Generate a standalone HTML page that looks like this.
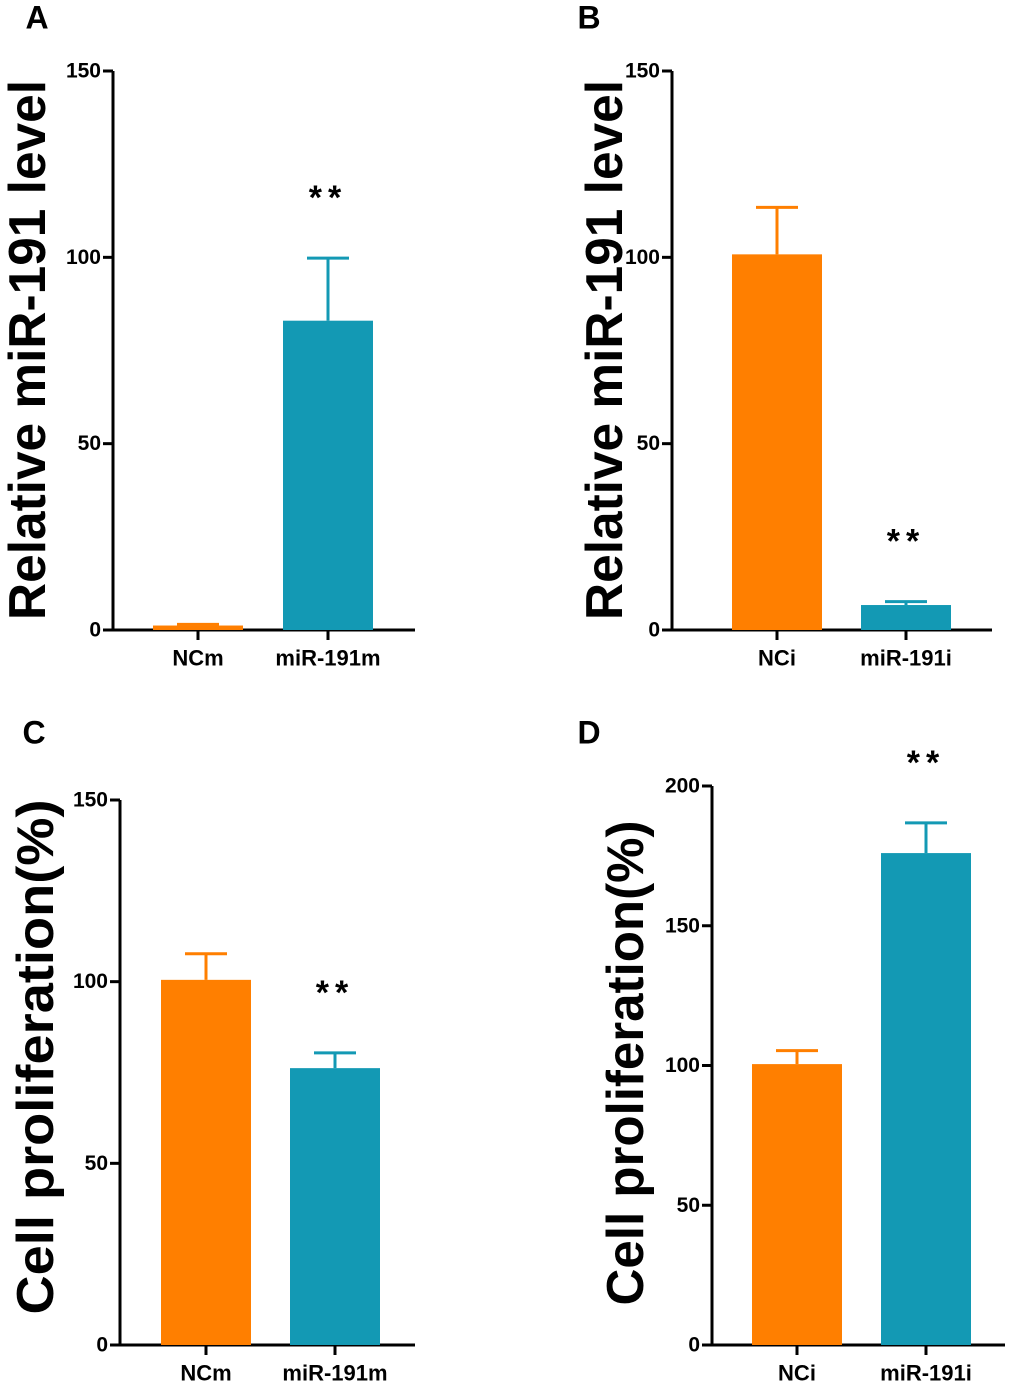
<!DOCTYPE html>
<html><head><meta charset="utf-8"><style>
body{margin:0;background:#fff}
svg text{font-family:"Liberation Sans",Arial,sans-serif;font-weight:bold;fill:#000}
</style></head><body>
<svg id="fig" width="1020" height="1387" viewBox="0 0 1020 1387" xmlns="http://www.w3.org/2000/svg"></svg>
<script>
const panelLetters = ["A","B","C","D"];
const yTitles = ["Relative miR-191 level","Relative miR-191 level","Cell proliferation(%)","Cell proliferation(%)"];
const categoriesA = ["NCm","miR-191m"];
const categoriesB = ["NCi","miR-191i"];
const categoriesC = ["NCm","miR-191m"];
const categoriesD = ["NCi","miR-191i"];
const valuesA = [1.2, 83]; const errorsA = [0.3, 16.8];
const valuesB = [100.8, 6.7]; const errorsB = [12.6, 0.9];
const valuesC = [100.5, 76.2]; const errorsC = [7.2, 4.2];
const valuesD = [100.5, 176]; const errorsD = [4.8, 10.8];
const ticksA = [0,50,100,150]; const ticksB = [0,50,100,150];
const ticksC = [0,50,100,150]; const ticksD = [0,50,100,150,200];
const sigA = [false,true]; const sigB = [false,true]; const sigC = [false,true]; const sigD = [false,true];

const layout = [
 {ax:113,y0:630,y1:71,xend:415,bx:[153,283],lx:37,ly:18,tx:28,ty:350,ts:52,tl:540,cats:categoriesA,vals:valuesA,errs:errorsA,ticks:ticksA,sig:sigA,l:0},
 {ax:672,y0:630,y1:71,xend:992,bx:[732,861],lx:589,ly:18,tx:605,ty:350,ts:52,tl:540,cats:categoriesB,vals:valuesB,errs:errorsB,ticks:ticksB,sig:sigB,l:1},
 {ax:120,y0:1345,y1:800,xend:415,bx:[161,290],lx:34,ly:733,tx:36,ty:1057,ts:52,tl:515,cats:categoriesC,vals:valuesC,errs:errorsC,ticks:ticksC,sig:sigC,l:2},
 {ax:712,y0:1345,y1:786,xend:1005,bx:[752,881],lx:589,ly:733,tx:626,ty:1063,ts:52,tl:485,cats:categoriesD,vals:valuesD,errs:errorsD,ticks:ticksD,sig:sigD,l:3}
];
const colors=["#FF7F00","#1399B4"];
const svg=document.getElementById('fig');
const NS="http://www.w3.org/2000/svg";
function mk(tag,attrs,txt){const e=document.createElementNS(NS,tag);for(const k in attrs)e.setAttribute(k,attrs[k]);if(txt!==undefined)e.textContent=txt;svg.appendChild(e);return e;}
layout.forEach((p,pi)=>{
  const maxT=p.ticks[p.ticks.length-1];
  const y=v=>p.y0-(p.y0-p.y1)*v/maxT;
  let e=mk('text',{x:p.lx,y:p.ly+2,'font-size':32,'text-anchor':'middle','dominant-baseline':'middle'},panelLetters[p.l]);
  
  
  e=mk('text',{x:0,y:0,'font-size':p.ts,'text-anchor':'middle','dominant-baseline':'central',textLength:p.tl,lengthAdjust:'spacingAndGlyphs',transform:`translate(${p.tx},${p.ty}) rotate(-90)`},yTitles[pi]);
  
  
  e=mk('line',{x1:p.ax,y1:y(maxT),x2:p.ax,y2:p.y0,stroke:'#000','stroke-width':3});
  
  
  e=mk('line',{x1:p.ax-1.5,y1:p.y0,x2:p.xend,y2:p.y0,stroke:'#000','stroke-width':3});
  
  
  p.ticks.forEach(t=>{
    let l=mk('line',{x1:p.ax-10,y1:y(t),x2:p.ax,y2:y(t),stroke:'#000','stroke-width':3});
    
    
    let tx=mk('text',{x:p.ax-12,y:y(t),'font-size':21,'text-anchor':'end','dominant-baseline':'central'},String(t));
    
    
  });
  p.vals.forEach((v,i)=>{
    const bx=p.bx[i],bw=90,cx=bx+bw/2;
    const top=p.errs[i]+v;
    let el=mk('line',{x1:cx,y1:y(top),x2:cx,y2:y(v),stroke:colors[i],'stroke-width':3});
    
    
    el=mk('line',{x1:cx-21,y1:y(top),x2:cx+21,y2:y(top),stroke:colors[i],'stroke-width':3});
    
    
    const r=mk('rect',{x:bx,y:y(v),width:bw,height:p.y0-y(v),fill:colors[i]});
    
    
    el=mk('line',{x1:cx,y1:p.y0,x2:cx,y2:p.y0+10,stroke:'#000','stroke-width':3});
    
    
    el=mk('text',{x:cx,y:p.y0+28,'font-size':22,'text-anchor':'middle','dominant-baseline':'central'},p.cats[i]);
    
    
    if(p.sig[i]){
      el=mk('text',{x:cx,y:y(top)-60,'font-size':34,'text-anchor':'middle','dominant-baseline':'central','letter-spacing':'6'},'**');
      
      
    }
  });
});
</script>
</body></html>
